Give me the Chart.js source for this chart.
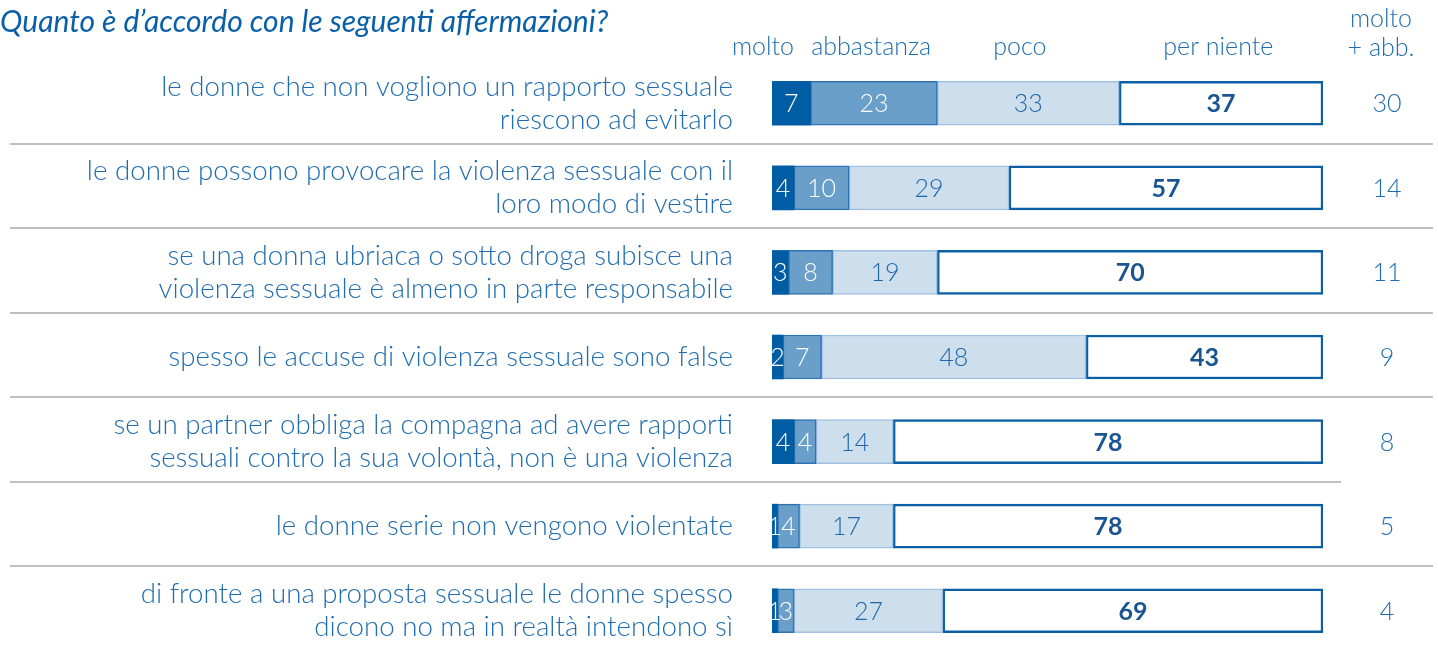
<!DOCTYPE html>
<html lang="it">
<head>
  <meta charset="UTF-8">
  <title>Quanto è d'accordo con le seguenti affermazioni?</title>
  <script src="https://cdn.jsdelivr.net/npm/chart.js"></script>
  <style>
    body { margin: 0; background: #fff; }
    #wrap { width: 1438px; height: 653px; position: relative; }
  </style>
</head>
<body>
<div id="wrap"><canvas id="myChart"></canvas></div>

<script>
  const statements = [
    ['le donne che non vogliono un rapporto sessuale', 'riescono ad evitarlo'],
    ['le donne possono provocare la violenza sessuale con il', 'loro modo di vestire'],
    ['se una donna ubriaca o sotto droga subisce una', 'violenza sessuale è almeno in parte responsabile'],
    'spesso le accuse di violenza sessuale sono false',
    ['se un partner obbliga la compagna ad avere rapporti', 'sessuali contro la sua volontà, non è una violenza'],
    'le donne serie non vengono violentate',
    ['di fronte a una proposta sessuale le donne spesso', 'dicono no ma in realtà intendono sì']
  ];
  const seriesNames = ['molto', 'abbastanza', 'poco', 'per niente'];
  const molto      = [7, 4, 3, 2, 4, 1, 1];
  const abbastanza = [23, 10, 8, 7, 4, 4, 3];
  const poco       = [33, 29, 19, 48, 14, 17, 27];
  const perNiente  = [37, 57, 70, 43, 78, 78, 69];
  const moltoAbb   = [30, 14, 11, 9, 8, 5, 4];

  const FONT = 'Lato';
  const BLUE = '#1f6cb0';

  const extras = {
    id: 'extras',
    afterDatasetsDraw(chart) {
      const ctx = chart.ctx;
      const x = chart.scales.x, y = chart.scales.y;
      ctx.save();

      // values inside segments
      const labelColors = ['#ffffff', '#ffffff', '#2068ab', '#1a5592'];
      chart.data.datasets.forEach((ds, di) => {
        const meta = chart.getDatasetMeta(di);
        meta.data.forEach((bar, i) => {
          const cx = (bar.base + bar.x) / 2;
          ctx.font = (di === 3 ? '700 ' : '300 ') + '25px ' + FONT;
          ctx.fillStyle = labelColors[di];
          ctx.textAlign = 'center';
          ctx.textBaseline = 'middle';
          ctx.fillText(ds.data[i], cx, bar.y + 1);
        });
      });

      // separator lines
      ctx.strokeStyle = '#bfbfbf';
      ctx.lineWidth = 2;
      for (let i = 0; i < statements.length - 1; i++) {
        const yy = Math.round((y.getPixelForValue(i) + y.getPixelForValue(i + 1)) / 2) - 2;
        ctx.beginPath();
        ctx.moveTo(10, yy);
        ctx.lineTo(i === 4 ? 1341 : 1433, yy);
        ctx.stroke();
      }

      // right column
      ctx.fillStyle = BLUE;
      ctx.font = '300 25px ' + FONT;
      ctx.textAlign = 'center';
      ctx.textBaseline = 'middle';
      moltoAbb.forEach((v, i) => ctx.fillText(v, 1387, y.getPixelForValue(i) + 1));
      ctx.fillText('molto', 1381, 19);
      ctx.fillText('+ abb.', 1381, 48);

      // series headers
      ctx.textAlign = 'right';
      ctx.fillText(seriesNames[0], x.getPixelForValue(4), 47);
      ctx.textAlign = 'center';
      ctx.fillText(seriesNames[1], x.getPixelForValue(18), 47);
      ctx.fillText(seriesNames[2], x.getPixelForValue(45), 47);
      ctx.fillText(seriesNames[3], x.getPixelForValue(81), 47);

      // title
      ctx.fillStyle = '#0a5fa8';
      ctx.font = 'italic 400 30px ' + FONT;
      ctx.textAlign = 'left';
      ctx.fillText('Quanto è d\u2019accordo con le seguenti affermazioni?', 0, 22);
      ctx.restore();
    }
  };

  const ctx = document.getElementById('myChart').getContext('2d');
  new Chart(ctx, {
    type: 'bar',
    data: {
      labels: statements,
      datasets: [
        { label: seriesNames[0], data: molto, backgroundColor: '#005ca3', borderColor: '#005ca3', borderWidth: 0 },
        { label: seriesNames[1], data: abbastanza, backgroundColor: '#6a9fc9', borderColor: '#2d72b3', borderWidth: 1.5, borderSkipped: false },
        { label: seriesNames[2], data: poco, backgroundColor: '#cddeed', borderColor: '#9fc0e0', borderWidth: 1.5, borderSkipped: false },
        { label: seriesNames[3], data: perNiente, backgroundColor: '#ffffff', borderColor: '#0b5fa5', borderWidth: 2.5, borderSkipped: false }
      ]
    },
    options: {
      indexAxis: 'y',
      responsive: true,
      maintainAspectRatio: false,
      animation: false,
      barThickness: 44,
      layout: { padding: { top: 61, right: 115, bottom: 0, left: 0 } },
      plugins: { legend: { display: false }, tooltip: { enabled: false } },
      scales: {
        x: { stacked: true, min: 0, max: 100, display: false },
        y: {
          stacked: true,
          grid: { display: false, drawTicks: false },
          border: { display: false },
          afterFit(scale) {
            scale.width = 772;
            scale.paddingTop = 0;
            scale.paddingBottom = 0;
          },
          ticks: {
            padding: 39,
            color: BLUE,
            font: { family: FONT, size: 27.7, weight: '300', lineHeight: 1.2 }
          }
        }
      }
    },
    plugins: [extras]
  });
</script>
</body>
</html>
